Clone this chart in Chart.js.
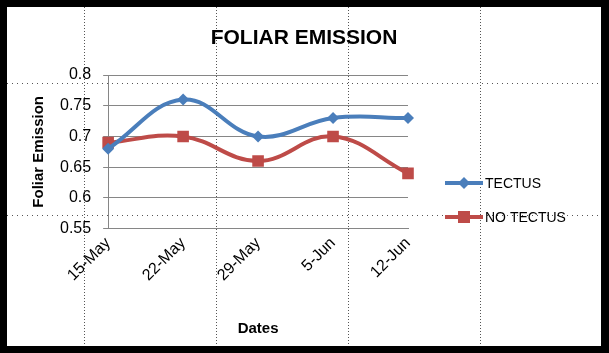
<!DOCTYPE html>
<html>
<head>
<meta charset="utf-8">
<script src="https://cdn.jsdelivr.net/npm/chart.js@4"></script>
<style>
  html, body { margin: 0; padding: 0; background: #000; }
  #wrap { position: absolute; left: 7px; top: 7px; width: 594px; height: 339px; background: #fff; }
</style>
</head>
<body>
<div id="wrap"><canvas id="myChart" width="594" height="339"></canvas></div>
<script>
// chart data
const dates = ["15-May", "22-May", "29-May", "5-Jun", "12-Jun"];
const tectus = [0.68, 0.76, 0.70, 0.73, 0.73];
const noTectus = [0.69, 0.70, 0.66, 0.70, 0.64];
const yTicks = [0.55, 0.6, 0.65, 0.7, 0.75, 0.8];

const blue = "#4a7ebb";
const red = "#be4b48";
const font = "'Liberation Sans', Arial, sans-serif";

// dotted guide lines behind the chart (slide grid)
const guides = {
  id: "guides",
  beforeDraw(chart) {
    const c = chart.ctx;
    c.save();
    c.strokeStyle = "#555";
    c.lineWidth = 1;
    c.setLineDash([1, 2]);
    [77, 209, 341, 473].forEach(function (x) {
      c.beginPath();
      c.moveTo(x + 0.5, 0);
      c.lineTo(x + 0.5, chart.height);
      c.stroke();
    });
    c.setLineDash([1, 4]);
    [76, 208].forEach(function (y) {
      c.beginPath();
      c.moveTo(0, y + 0.5);
      c.lineTo(chart.width, y + 0.5);
      c.stroke();
    });
    c.restore();
  }
};

// title centred on the whole chart, plus legend with line + marker like excel
const extras = {
  id: "extras",
  afterDraw(chart) {
    const c = chart.ctx;
    c.save();
    c.fillStyle = "#000";
    c.font = "bold 21px " + font;
    c.textAlign = "center";
    c.textBaseline = "middle";
    c.fillText("FOLIAR EMISSION", 297, 31);
    c.restore();

    const x0 = chart.chartArea.right + 37;
    const rows = [176, 210];
    chart.data.datasets.forEach(function (ds, i) {
      const y = rows[i];
      c.save();
      c.strokeStyle = ds.borderColor;
      c.lineWidth = 4;
      c.beginPath();
      c.moveTo(x0, y);
      c.lineTo(x0 + 38, y);
      c.stroke();
      c.fillStyle = ds.borderColor;
      const mx = x0 + 19;
      if (ds.pointStyle === "rect") {
        c.fillRect(mx - 6, y - 6, 12, 12);
      } else {
        c.beginPath();
        c.moveTo(mx, y - 6);
        c.lineTo(mx + 6, y);
        c.lineTo(mx, y + 6);
        c.lineTo(mx - 6, y);
        c.closePath();
        c.fill();
      }
      c.fillStyle = "#000";
      c.font = "14px " + font;
      c.textBaseline = "middle";
      c.fillText(ds.label, x0 + 40, y + 1);
      c.restore();
    });
  }
};

const ctx = document.getElementById("myChart");
const myChart = new Chart(ctx, {
  type: "line",
  data: {
    labels: dates,
    datasets: [
      {
        label: "TECTUS",
        data: tectus,
        borderColor: blue,
        backgroundColor: blue,
        borderWidth: 4,
        tension: 0.4,
        pointStyle: "rectRot",
        pointRadius: 6,
        pointBorderWidth: 0
      },
      {
        label: "NO TECTUS",
        data: noTectus,
        borderColor: red,
        backgroundColor: red,
        borderWidth: 4,
        tension: 0.4,
        pointStyle: "rect",
        pointRadius: 8.2,
        pointBorderWidth: 0
      }
    ]
  },
  options: {
    responsive: false,
    animation: false,
    layout: { padding: { left: 23, right: 193, top: 68, bottom: 8 } },
    plugins: {
      legend: { display: false },
      tooltip: { enabled: false },
      title: { display: false }
    },
    scales: {
      x: {
        offset: false,
        grid: { display: false, drawTicks: true, tickLength: 5, color: "#868686" },
        border: { color: "#868686" },
        ticks: {
          color: "#000",
          font: { family: font, size: 16 },
          minRotation: 45,
          maxRotation: 45,
          padding: 0
        },
        title: {
          display: true,
          text: "Dates",
          color: "#000",
          font: { family: font, size: 15, weight: "bold" },
          padding: { top: 35, bottom: 0 }
        }
      },
      y: {
        min: 0.55,
        max: 0.8,
        afterBuildTicks(axis) {
          axis.ticks = yTicks.map(function (v) { return { value: v }; });
        },
        grid: { color: "#868686", tickLength: 5 },
        border: { color: "#868686" },
        ticks: {
          color: "#000",
          font: { family: font, size: 16 },
          padding: 12,
          callback: function (v) { return String(Math.round(v * 100) / 100); }
        },
        title: {
          display: true,
          text: "Foliar Emission",
          color: "#000",
          font: { family: font, size: 15, weight: "bold" },
          padding: { top: 0, bottom: 0 }
        }
      }
    }
  },
  plugins: [guides, extras]
});
</script>
</body>
</html>
